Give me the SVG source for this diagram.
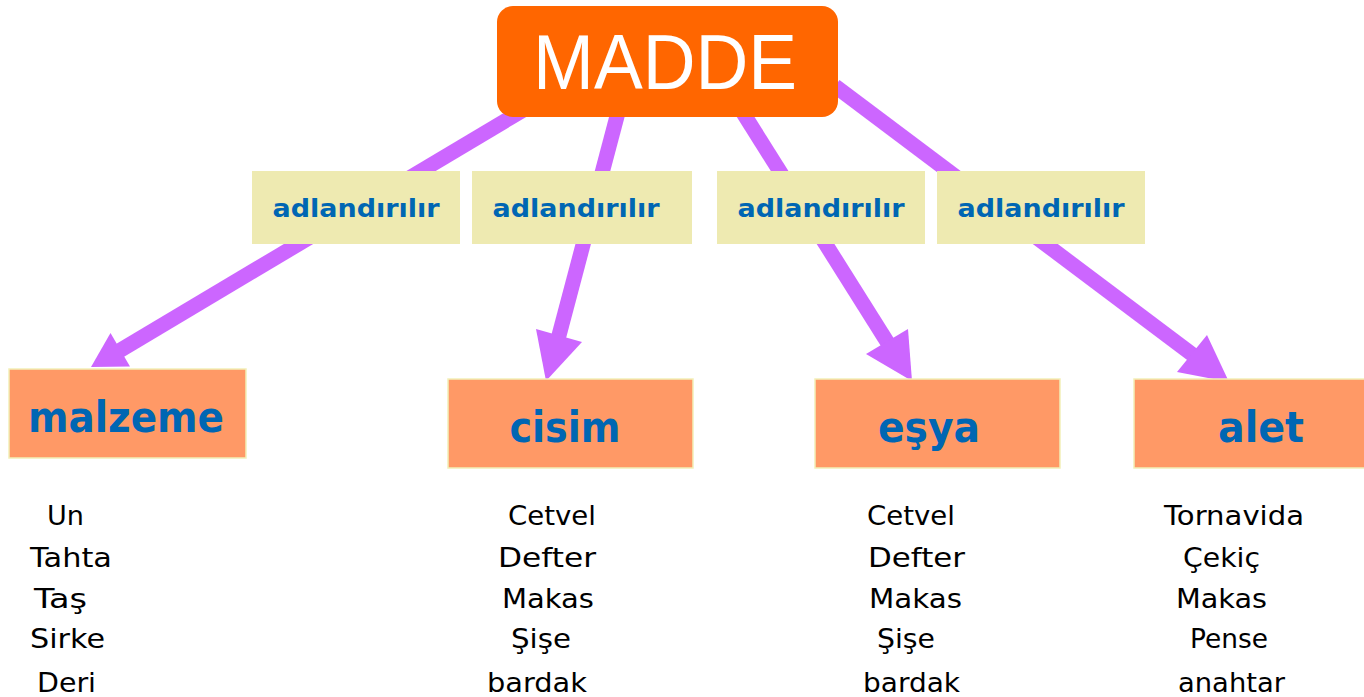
<svg xmlns="http://www.w3.org/2000/svg" width="1364" height="697" viewBox="0 0 1364 697">
<style>
.shaft{stroke:#CC66FF;stroke-width:15;fill:none;stroke-linecap:butt}
.head{fill:#CC66FF}
.lbl{fill:#EEEAB1}
.lbltxt{font-family:"DejaVu Sans",sans-serif;font-weight:bold;font-size:24px;fill:#0066B3;text-anchor:middle}
.node{fill:#FF9966;stroke:#F2F0B8;stroke-width:1.5}
.nodetxt{font-family:"DejaVu Sans",sans-serif;font-weight:bold;font-size:42px;fill:#0066B3;text-anchor:middle}
.item{font-family:"DejaVu Sans",sans-serif;font-size:27px;fill:#000}
</style>
<rect width="1364" height="697" fill="#FFFFFF"/>
<g id="connectors">
<line class="shaft" x1="530" y1="106" x2="114" y2="354"/>
<polygon class="head" points="91,367 110.5,333 130,366.5"/>
<line class="shaft" x1="620" y1="105" x2="557" y2="343"/>
<polygon class="head" points="546,381 536,329 582,342"/>
<line class="shaft" x1="740" y1="108" x2="891" y2="348"/>
<polygon class="head" points="912,381 866,354 908,329"/>
<line class="shaft" x1="835" y1="86" x2="1197" y2="358"/>
<polygon class="head" points="1229,382 1177,372 1207,335"/>
</g>
<g id="edge-labels">
<g id="label1"><rect class="lbl" x="252" y="171" width="208" height="73"/><text class="lbltxt" x="356" y="217" textLength="167" lengthAdjust="spacingAndGlyphs">adlandırılır</text></g>
<g id="label2"><rect class="lbl" x="472" y="171" width="220" height="73"/><text class="lbltxt" x="576" y="217" textLength="167" lengthAdjust="spacingAndGlyphs">adlandırılır</text></g>
<g id="label3"><rect class="lbl" x="717" y="171" width="208" height="73"/><text class="lbltxt" x="821" y="217" textLength="167" lengthAdjust="spacingAndGlyphs">adlandırılır</text></g>
<g id="label4"><rect class="lbl" x="937" y="171" width="208" height="73"/><text class="lbltxt" x="1041" y="217" textLength="167" lengthAdjust="spacingAndGlyphs">adlandırılır</text></g>
</g>
<g id="madde">
<rect x="497" y="6" width="341" height="111" rx="16" fill="#FF6600"/>
<text x="665" y="89" font-family="'Liberation Sans',Arial,sans-serif" font-size="78" fill="#FFFFFF" text-anchor="middle" textLength="264" lengthAdjust="spacingAndGlyphs">MADDE</text>
</g>
<g id="malzeme">
<rect class="node" x="9" y="369" width="237" height="89"/>
<text class="nodetxt" x="126" y="432" textLength="196" lengthAdjust="spacingAndGlyphs">malzeme</text>
</g>
<g id="cisim">
<rect class="node" x="448" y="379" width="245" height="89"/>
<text class="nodetxt" x="565" y="442" textLength="111" lengthAdjust="spacingAndGlyphs">cisim</text>
</g>
<g id="esya">
<rect class="node" x="815" y="379" width="245" height="89"/>
<text class="nodetxt" x="929" y="442" textLength="102" lengthAdjust="spacingAndGlyphs">eşya</text>
</g>
<g id="alet">
<rect class="node" x="1134" y="379" width="232" height="89"/>
<text class="nodetxt" x="1261" y="442" textLength="86" lengthAdjust="spacingAndGlyphs">alet</text>
</g>
<g id="list-malzeme">
<text class="item" x="47" y="525" textLength="37" lengthAdjust="spacingAndGlyphs">Un</text>
<text class="item" x="30" y="567" textLength="82" lengthAdjust="spacingAndGlyphs">Tahta</text>
<text class="item" x="34" y="608" textLength="53" lengthAdjust="spacingAndGlyphs">Taş</text>
<text class="item" x="30" y="648" textLength="75" lengthAdjust="spacingAndGlyphs">Sirke</text>
<text class="item" x="37" y="692" textLength="59" lengthAdjust="spacingAndGlyphs">Deri</text>
</g>
<g id="list-cisim">
<text class="item" x="508" y="525" textLength="88" lengthAdjust="spacingAndGlyphs">Cetvel</text>
<text class="item" x="498" y="567" textLength="98" lengthAdjust="spacingAndGlyphs">Defter</text>
<text class="item" x="502" y="608" textLength="92" lengthAdjust="spacingAndGlyphs">Makas</text>
<text class="item" x="511" y="648" textLength="60" lengthAdjust="spacingAndGlyphs">Şişe</text>
<text class="item" x="487" y="692" textLength="100" lengthAdjust="spacingAndGlyphs">bardak</text>
</g>
<g id="list-esya">
<text class="item" x="867" y="525" textLength="88" lengthAdjust="spacingAndGlyphs">Cetvel</text>
<text class="item" x="868" y="567" textLength="97" lengthAdjust="spacingAndGlyphs">Defter</text>
<text class="item" x="869" y="608" textLength="93" lengthAdjust="spacingAndGlyphs">Makas</text>
<text class="item" x="877" y="648" textLength="58" lengthAdjust="spacingAndGlyphs">Şişe</text>
<text class="item" x="863" y="692" textLength="97" lengthAdjust="spacingAndGlyphs">bardak</text>
</g>
<g id="list-alet">
<text class="item" x="1164" y="525" textLength="140" lengthAdjust="spacingAndGlyphs">Tornavida</text>
<text class="item" x="1183" y="567" textLength="77" lengthAdjust="spacingAndGlyphs">Çekiç</text>
<text class="item" x="1176" y="608" textLength="91" lengthAdjust="spacingAndGlyphs">Makas</text>
<text class="item" x="1190" y="648" textLength="78" lengthAdjust="spacingAndGlyphs">Pense</text>
<text class="item" x="1178" y="692" textLength="107" lengthAdjust="spacingAndGlyphs">anahtar</text>
</g>
</svg>
